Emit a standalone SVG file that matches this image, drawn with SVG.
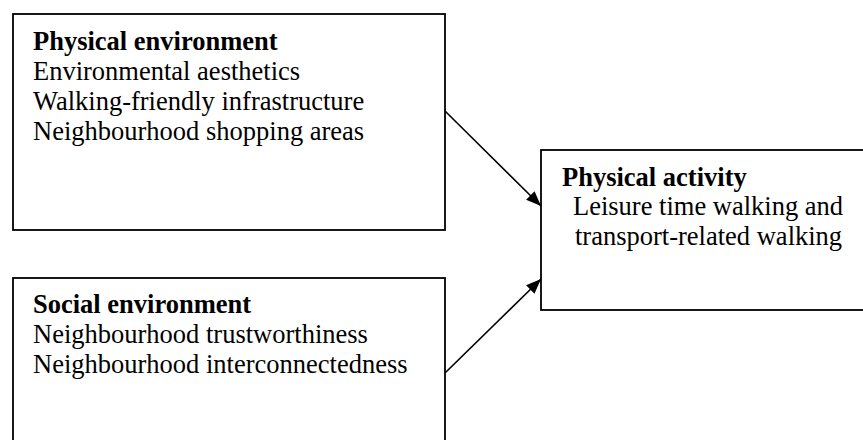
<svg xmlns="http://www.w3.org/2000/svg" width="863" height="440" viewBox="0 0 863 440">
  <style>
    .box { fill: #ffffff; stroke: #000000; stroke-width: 1.8; }
    .t { font-family: "Liberation Serif", "Times New Roman", serif; font-size: 26.5px; fill: #000000; }
    .b { font-weight: bold; }
    .conn { stroke: #000000; stroke-width: 1.6; fill: none; }
  </style>
  <defs>
    <marker id="arrow" viewBox="0 0 15 12" refX="15" refY="6" markerWidth="15" markerHeight="12" markerUnits="userSpaceOnUse" orient="auto">
      <path d="M0,0 L15,6 L0,12 z" fill="#000000"/>
    </marker>
  </defs>
  <rect width="863" height="440" fill="#ffffff"/>

  <g id="physical-environment">
    <rect class="box" x="13" y="14" width="432" height="216"/>
    <text class="t b" x="33" y="50">Physical environment</text>
    <text class="t" x="33" y="80">Environmental aesthetics</text>
    <text class="t" x="33" y="110">Walking-friendly infrastructure</text>
    <text class="t" x="33" y="140">Neighbourhood shopping areas</text>
  </g>

  <g id="social-environment">
    <rect class="box" x="13" y="278" width="432" height="180"/>
    <text class="t b" x="33" y="313">Social environment</text>
    <text class="t" x="33" y="343">Neighbourhood trustworthiness</text>
    <text class="t" x="33" y="373">Neighbourhood interconnectedness</text>
  </g>

  <g id="physical-activity">
    <rect class="box" x="541" y="150" width="340" height="160"/>
    <text class="t b" x="562" y="186">Physical activity</text>
    <text class="t" x="573" y="215">Leisure time walking and</text>
    <text class="t" x="575" y="245">transport-related walking</text>
  </g>

  <g id="connectors">
    <line class="conn" x1="445" y1="111" x2="541" y2="206" marker-end="url(#arrow)"/>
    <line class="conn" x1="445" y1="373" x2="541" y2="279" marker-end="url(#arrow)"/>
  </g>
</svg>
